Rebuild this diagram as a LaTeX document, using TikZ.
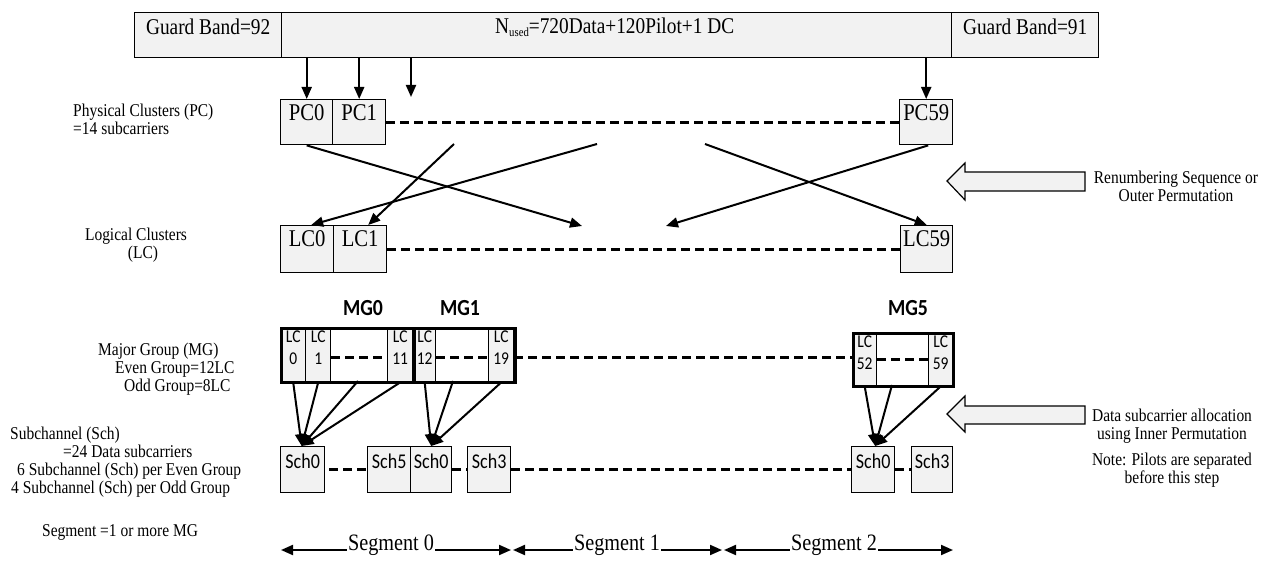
\documentclass[tikz,border=0pt]{standalone}
\usepackage{fontspec}
\setmainfont{Liberation Serif}[FakeStretch=0.86]
\newfontfamily\calfont{Carlito}[FakeStretch=0.86]
\usetikzlibrary{arrows.meta}
\definecolor{boxfill}{RGB}{242,242,242}
\tikzset{
  cell/.style={draw=black, line width=1.4pt, fill=boxfill, inner sep=0pt, anchor=north west},
  mgbox/.style={draw=black, line width=3pt, inner sep=0pt, anchor=north west},
  arr/.style={line width=2pt, -{Triangle[length=12pt,width=10pt]}},
  dline/.style={line width=2.8pt, dash pattern=on 9pt off 5pt},
  lbl/.style={font=\fontsize{18}{18}\selectfont, inner sep=0pt},
  rlbl/.style={font=\fontsize{18}{18}\selectfont, inner sep=0pt, align=center},
  big/.style={font=\fontsize{24}{26}\selectfont, inner sep=0pt},
  seg/.style={font=\fontsize{23.5}{26}\selectfont, inner sep=1pt},
  bar/.style={font=\fontsize{22.5}{25}\selectfont, inner sep=0pt},
  cal/.style={font=\calfont\fontsize{21}{23}\selectfont, inner sep=0pt},
  lcs/.style={font=\calfont\fontsize{18}{22}\selectfont, inner sep=0pt, align=center},
  mgl/.style={font=\calfont\bfseries\fontsize{23}{25}\selectfont, inner sep=0pt},
  hollow/.style={draw=black, line width=1.2pt, fill=boxfill},
}
\begin{document}
\begin{tikzpicture}[x=1pt,y=-1pt]
\useasboundingbox (0,0) rectangle (1276,561);

% ---------- top bar ----------
\node[cell, minimum width=147pt, minimum height=45pt] (gb1) at (134,12) {};
\node[cell, minimum width=670pt, minimum height=45pt] (nused) at (281,12) {};
\node[cell, minimum width=147pt, minimum height=45pt] (gb2) at (951,12) {};
\node[bar] (gb1t) at ([yshift=-15pt]gb1.north) {Guard Band=92};
\node[bar] (nusedt) at ([xshift=-2pt,yshift=-15pt]nused.north) {N\raisebox{-0.3ex}{\fontsize{12.5}{12.5}\selectfont used}=720Data+120Pilot+1 DC};
\node[bar] (gb2t) at ([yshift=-15pt]gb2.north) {Guard Band=91};

% ---------- physical clusters ----------
\node[cell, minimum width=52pt, minimum height=45pt] (pc0) at (280,99) {};
\node[cell, minimum width=53pt, minimum height=45pt] (pc1) at (332,99) {};
\node[cell, minimum width=53pt, minimum height=45pt] (pc59) at (899,99) {};
\node[big] (pc0t) at ([yshift=-14pt]pc0.north) {PC0};
\node[big] (pc1t) at ([yshift=-14pt]pc1.north) {PC1};
\node[big] (pc59t) at ([yshift=-14pt]pc59.north) {PC59};
\draw[dline] (pc1.east) -- (pc59.west);

\coordinate (d3) at (411,97);
\draw[arr] (pc0.north |- nused.south) -- (pc0.north);
\draw[arr] (pc1.north |- nused.south) -- (pc1.north);
\draw[arr] (d3 |- nused.south) -- (d3);
\draw[arr] (pc59.north |- nused.south) -- (pc59.north);

\node[lbl, anchor=west, align=left] (physl) at (73,119) {Physical Clusters (PC)\\=14 subcarriers};

% ---------- logical clusters ----------
\node[cell, minimum width=53pt, minimum height=47pt] (lc0) at (280,225) {};
\node[cell, minimum width=53pt, minimum height=47pt] (lc1) at (333,225) {};
\node[cell, minimum width=52pt, minimum height=47pt] (lc59) at (900,225) {};
\node[big] (lc0t) at ([yshift=-14pt]lc0.north) {LC0};
\node[big] (lc1t) at ([yshift=-14pt]lc1.north) {LC1};
\node[big] (lc59t) at ([yshift=-14pt]lc59.north) {LC59};
\draw[dline] (lc1.east) -- (lc59.west);

\node[rlbl] (logl) at (136,245) {Logical Clusters\\\hspace*{14pt}(LC)};

% crossing (renumbering) arrows
\coordinate (x1) at (582,226);
\coordinate (x2) at (666,226);
\coordinate (s1) at (454,144);
\coordinate (s2) at (597,144);
\coordinate (s3) at (705,144);
\draw[arr] (pc0.south) -- (x1);
\draw[arr] (s1) -- ([xshift=8pt]lc1.north);
\draw[arr] (s2) -- ([xshift=4pt]lc0.north);
\draw[arr] (s3) -- (lc59.north);
\draw[arr] ([xshift=2pt]pc59.south) -- (x2);

% hollow arrow 1
\draw[hollow] (947,181) -- (965,163) -- (965,172) -- (1085,172) -- (1085,191) -- (965,191) -- (965,200) -- cycle;
\node[rlbl] (ren) at (1176,186) {Renumbering Sequence or\\Outer Permutation};

% ---------- major groups ----------
\node[mgl] (mg0l) at (363,308) {MG0};
\node[mgl] (mg1l) at (460,308) {MG1};
\node[mgl] (mg5l) at (908,308) {MG5};

% MG0
\node[cell, minimum width=25pt, minimum height=54pt] (lca0) at (280,327) {};
\node[cell, minimum width=25pt, minimum height=54pt] (lca1) at (305,327) {};
\node[cell, minimum width=25pt, minimum height=54pt] (lca11) at (387,327) {};
\node[mgbox, minimum width=132pt, minimum height=54pt] (mg0) at (280,327) {};
% MG1
\node[cell, minimum width=22pt, minimum height=54pt] (lca12) at (413,327) {};
\node[cell, minimum width=25pt, minimum height=54pt] (lca19) at (488,327) {};
\node[mgbox, minimum width=101pt, minimum height=54pt] (mg1) at (413,327) {};
% MG5
\node[cell, minimum width=24pt, minimum height=53pt] (lca52) at (852,332) {};
\node[cell, minimum width=24pt, minimum height=53pt] (lca59) at (928,332) {};
\node[mgbox, minimum width=100pt, minimum height=53pt] (mg5) at (852,332) {};

\node[lcs, anchor=north] (t0) at ([yshift=-4pt]lca0.north) {LC\\0};
\node[lcs, anchor=north] (t1) at ([yshift=-4pt]lca1.north) {LC\\1};
\node[lcs, anchor=north] (t11) at ([yshift=-4pt]lca11.north) {LC\\11};
\node[lcs, anchor=north] (t12) at ([yshift=-4pt]lca12.north) {LC\\12};
\node[lcs, anchor=north] (t19) at ([yshift=-4pt]lca19.north) {LC\\19};
\node[lcs, anchor=north] (t52) at ([yshift=-4pt]lca52.north) {LC\\52};
\node[lcs, anchor=north] (t59) at ([yshift=-4pt]lca59.north) {LC\\59};

\draw[dline] ([yshift=-3pt]lca1.east) -- ([yshift=-3pt]lca11.west);
\draw[dline] ([yshift=-3pt]lca12.east) -- ([yshift=-3pt]lca19.west);
\draw[dline] ([yshift=-3pt]lca19.east) -- ([yshift=-3pt]lca19.east -| lca52.west);
\draw[dline] (lca52.east) -- (lca59.west);

\node[lbl, anchor=west, align=left] (mgla) at (98,369) {Major Group (MG)\\\hspace*{17pt}Even Group=12LC\\\hspace*{26pt}Odd Group=8LC};

% ---------- subchannels ----------
\node[cell, minimum width=44pt, minimum height=46pt] (sch0a) at (280,446) {};
\node[cell, minimum width=43pt, minimum height=46pt] (sch5a) at (367,446) {};
\node[cell, minimum width=41pt, minimum height=46pt] (sch0b) at (410,446) {};
\node[cell, minimum width=43pt, minimum height=46pt] (sch3b) at (467,446) {};
\node[cell, minimum width=43pt, minimum height=46pt] (sch0c) at (851,446) {};
\node[cell, minimum width=41pt, minimum height=46pt] (sch3c) at (911,446) {};
\node[cal] (ts0a) at ([yshift=-15pt]sch0a.north) {Sch0};
\node[cal] (ts5a) at ([yshift=-15pt]sch5a.north) {Sch5};
\node[cal] (ts0b) at ([yshift=-15pt]sch0b.north) {Sch0};
\node[cal] (ts3b) at ([yshift=-15pt]sch3b.north) {Sch3};
\node[cal] (ts0c) at ([yshift=-15pt]sch0c.north) {Sch0};
\node[cal] (ts3c) at ([yshift=-15pt]sch3c.north) {Sch3};

\draw[dline, dash phase=-4pt] (sch0a.east) -- (sch5a.west);
\draw[dline] (sch0b.east) -- (sch3b.west);
\draw[dline] (sch3b.east) -- (sch0c.west);
\draw[dline] (sch0c.east) -- (sch3c.west);

% inner permutation arrows
\coordinate (m0) at (358,381);
\coordinate (m1) at (453,381);
\coordinate (m5) at (892,385);
\draw[arr] (lca0.south) -- ([xshift=-1pt]sch0a.north);
\draw[arr] (lca1.south) -- ([xshift=-1pt]sch0a.north);
\draw[arr] (m0) -- ([xshift=-1pt]sch0a.north);
\draw[arr] (lca11.south) -- ([xshift=-1pt]sch0a.north);
\draw[arr] (lca12.south) -- (sch0b.north);
\draw[arr] (m1) -- (sch0b.north);
\draw[arr] (lca19.south) -- (sch0b.north);
\draw[arr] (lca52.south) -- ([xshift=2pt]sch0c.north);
\draw[arr] (m5) -- ([xshift=2pt]sch0c.north);
\draw[arr] (lca59.south) -- ([xshift=2pt]sch0c.north);

% hollow arrow 2
\draw[hollow] (947,414) -- (965,396) -- (965,406) -- (1085,406) -- (1085,424) -- (965,424) -- (965,432) -- cycle;
\node[rlbl] (dsa) at (1172,426) {Data subcarrier allocation\\using Inner Permutation};
\node[rlbl] (note) at (1172,470) {Note: Pilots are separated\\before this step};

\node[lbl, anchor=west, align=left] (schl) at (10,462) {Subchannel (Sch)\\\hspace*{53pt}=24 Data subcarriers\\\hspace*{7pt}6 Subchannel (Sch) per Even Group\\\hspace*{1pt}4 Subchannel (Sch) per Odd Group};

% ---------- segments ----------
\node[lbl, anchor=west] (segl) at (42,532) {Segment =1 or more MG};
\node[seg, anchor=base] (seg0) at (391,550) {Segment 0};
\node[seg, anchor=base] (seg1) at (617,550) {Segment 1};
\node[seg, anchor=base] (seg2) at (834,550) {Segment 2};
\coordinate (e0l) at (281,550);
\coordinate (e0r) at (511,550);
\coordinate (e1l) at (513,550);
\coordinate (e1r) at (722,550);
\coordinate (e2l) at (724,550);
\coordinate (e2r) at (953,550);
\draw[arr] (seg0.base west) -- (e0l);
\draw[arr] (seg0.base east) -- (e0r);
\draw[arr] (seg1.base west) -- (e1l);
\draw[arr] (seg1.base east) -- (e1r);
\draw[arr] (seg2.base west) -- (e2l);
\draw[arr] (seg2.base east) -- (e2r);
\end{tikzpicture}
\end{document}
